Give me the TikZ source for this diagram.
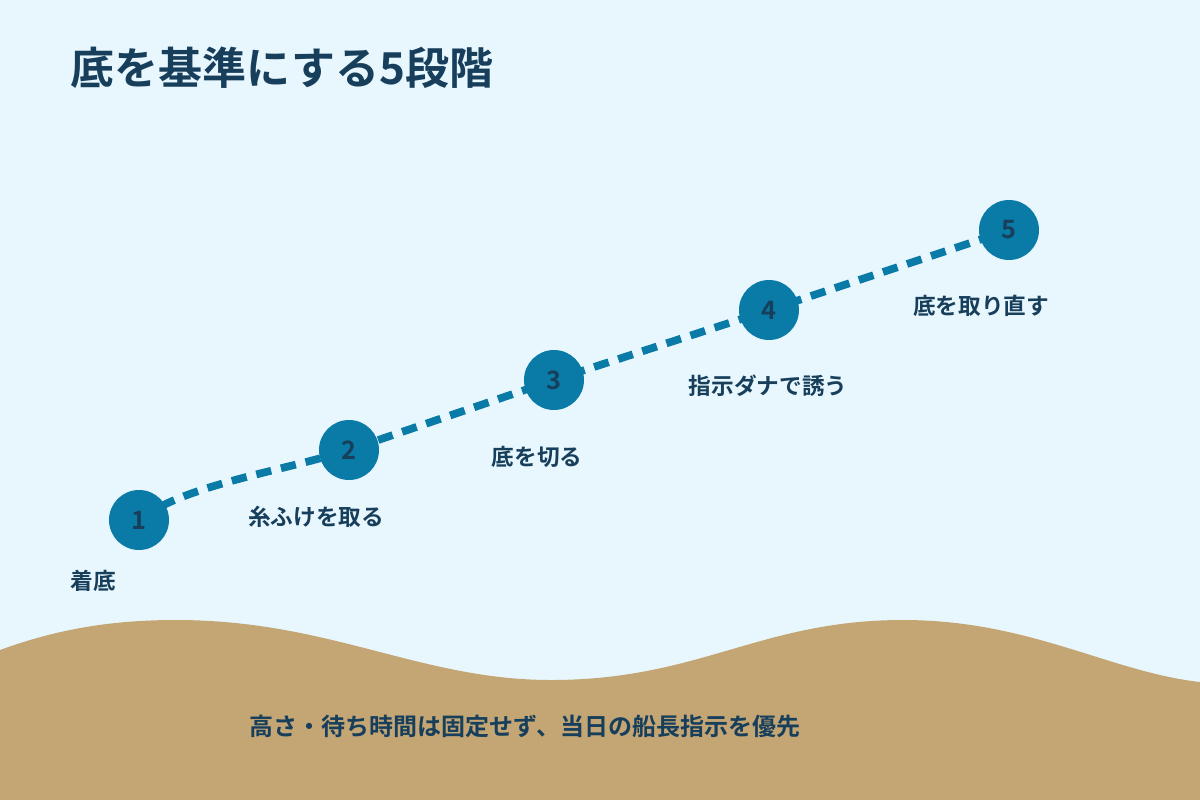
\documentclass[tikz,border=0pt]{standalone}
\usepackage{fontspec}
\setmainfont{Noto Sans CJK JP}[BoldFont={Noto Sans CJK JP Bold}]
\pgfdeclarelayer{back}
\pgfsetlayers{back,main}
\definecolor{sky}{HTML}{E8F7FD}
\definecolor{sand}{HTML}{C4A574}
\definecolor{ink}{HTML}{173F5C}
\definecolor{stepblue}{HTML}{0A7AA6}
\tikzset{
  stage/.style={circle, fill=stepblue, minimum size=45pt, inner sep=0pt,
    text=ink, font=\bfseries\fontsize{19}{19}\selectfont},
  caption/.style={text=ink, font=\bfseries\fontsize{17}{17}\selectfont},
  trail/.style={draw=stepblue, line width=5.8pt, dash pattern=on 11.5pt off 7.5pt},
}
\begin{document}
\begin{tikzpicture}[x=0.75pt, y=-0.75pt]
  \useasboundingbox (0,0) rectangle (1200,800);
  % stages
  \node[stage] (s1) at (139,520) {1};
  \node[stage] (s2) at (349,450) {2};
  \node[stage] (s3) at (554,380) {3};
  \node[stage] (s4) at (769,310) {4};
  \node[stage] (s5) at (1009,230) {5};
  \node[caption] (l1) at (93,581) {着底};
  \node[caption] (l2) at (316,517) {糸ふけを取る};
  \node[caption] (l3) at (537,457) {底を切る};
  \node[caption] (l4) at (768,386) {指示ダナで誘う};
  \node[caption] (l5) at (981,306) {底を取り直す};
  \node[text=ink, anchor=west, font=\bfseries\fontsize{33}{33}\selectfont] (title) at (66,68) {底を基準にする5段階};
  \begin{pgfonlayer}{back}
    \fill[sky] (0,0) rectangle (1200,800);
    \fill[sand] (0,650) .. controls (60,628) and (115,620) .. (176,620)
      .. controls (330,620) and (420,680) .. (551,680)
      .. controls (700,680) and (760,620) .. (903,620)
      .. controls (1030,620) and (1110,672) .. (1200,682)
      -- (1200,800) -- (0,800) -- cycle;
    \draw[trail] (s1.center) .. controls +(45,-35) and +(-70,22) .. (s2.center)
      -- (s3.center) -- (s4.center) -- (s5.center);
  \end{pgfonlayer}
  \node[text=ink, font=\bfseries\fontsize{18}{18}\selectfont] (note) at (525,726)
    {高さ・待ち時間は固定せず、当日の船長指示を優先};
\end{tikzpicture}
\end{document}
